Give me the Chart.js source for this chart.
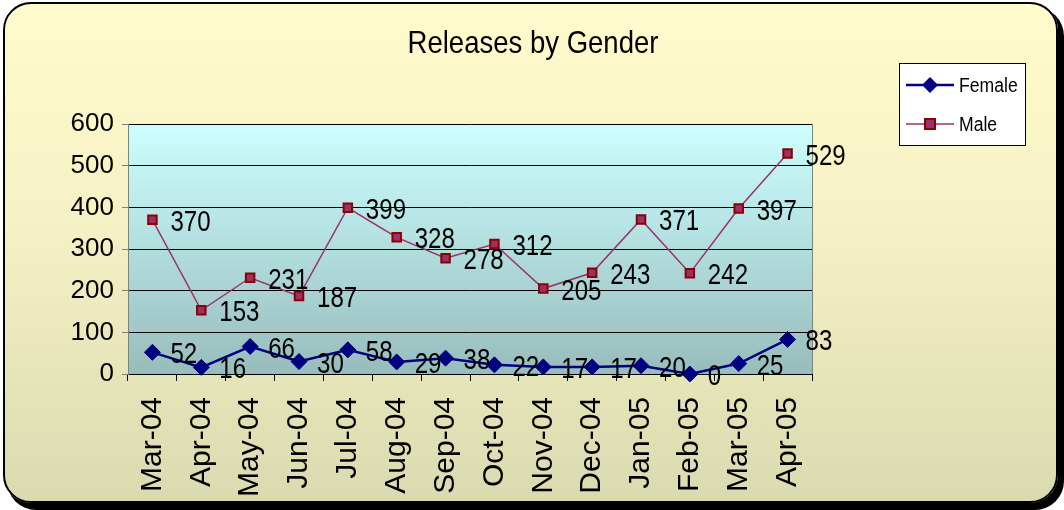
<!DOCTYPE html>
<html>
<head>
<meta charset="utf-8">
<script src="https://cdn.jsdelivr.net/npm/chart.js@4/dist/chart.umd.min.js"></script>
<style>
  html, body { margin: 0; padding: 0; background: #fff; }
  #wrap { position: relative; width: 1064px; height: 510px; overflow: hidden; }
  #frame {
    position: absolute; left: 3px; top: 2px; width: 1051px; height: 497px;
    border: 2px solid #000; border-radius: 28px;
    box-shadow: 5px 6px 0 1px #000;
    background: linear-gradient(to bottom, #fffbcc 0%, #f4f1c4 45%, #dadab0 100%);
  }
  #chart { position: absolute; left: 0; top: 0; }
</style>
</head>
<body>
<div id="wrap">
  <div id="frame"></div>
  <canvas id="chart" width="1064" height="510"></canvas>
</div>
<script>
const months = ["Mar-04", "Apr-04", "May-04", "Jun-04", "Jul-04", "Aug-04", "Sep-04",
  "Oct-04", "Nov-04", "Dec-04", "Jan-05", "Feb-05", "Mar-05", "Apr-05"];
const female = [52, 16, 66, 30, 58, 29, 38, 22, 17, 17, 20, 0, 25, 83];
const male = [370, 153, 231, 187, 399, 328, 278, 312, 205, 243, 371, 242, 397, 529];
const chartTitle = "Releases by Gender";

const FONT = "'Liberation Sans', Arial, sans-serif";

// text squeezed sideways, the way the original renders it
function narrowText(ctx, text, x, y, size, squeeze, align) {
  ctx.save();
  ctx.font = size + "px " + FONT;
  ctx.textAlign = align || "left";
  ctx.textBaseline = "alphabetic";
  ctx.translate(x, y);
  ctx.scale(squeeze, 1);
  ctx.fillText(text, 0, 0);
  ctx.restore();
}

// plot area gradient
const plotBackground = {
  id: "plotBackground",
  beforeDraw(chart) {
    const { ctx, chartArea: a } = chart;
    const g = ctx.createLinearGradient(0, a.top, 0, a.bottom);
    g.addColorStop(0, "#ccffff");
    g.addColorStop(1, "#98bcbc");
    ctx.save();
    ctx.fillStyle = g;
    ctx.fillRect(a.left, a.top, a.right - a.left, a.bottom - a.top);
    ctx.restore();
  },
  beforeDatasetsDraw(chart) {
    const { ctx, chartArea: a } = chart;
    ctx.save();
    ctx.strokeStyle = "#808080";
    ctx.lineWidth = 1;
    ctx.beginPath();
    ctx.moveTo(Math.round(a.right) + 0.5, a.top);
    ctx.lineTo(Math.round(a.right) + 0.5, a.bottom);
    ctx.stroke();
    ctx.restore();
  }
};

// value labels to the right of each point
const valueLabels = {
  id: "valueLabels",
  afterDatasetsDraw(chart) {
    const ctx = chart.ctx;
    ctx.fillStyle = "#000";
    chart.data.datasets.forEach((ds, i) => {
      chart.getDatasetMeta(i).data.forEach((pt, j) => {
        narrowText(ctx, String(ds.data[j]), pt.x + 18, pt.y + 11, 29, 0.83);
      });
    });
  }
};

// title and boxed legend
const titleAndLegend = {
  id: "titleAndLegend",
  afterDraw(chart) {
    const ctx = chart.ctx;
    ctx.save();
    ctx.fillStyle = "#000";
    narrowText(ctx, chartTitle, 533, 53, 32, 0.86, "center");

    ctx.fillStyle = "#fff";
    ctx.fillRect(899.5, 63.5, 126, 82);
    ctx.strokeStyle = "#000";
    ctx.lineWidth = 1;
    ctx.strokeRect(899.5, 63.5, 126, 82);

    chart.data.datasets.forEach((ds, i) => {
      const y = i === 0 ? 85 : 124;
      ctx.strokeStyle = ds.borderColor;
      ctx.lineWidth = ds.borderWidth;
      ctx.beginPath();
      ctx.moveTo(906, y);
      ctx.lineTo(954, y);
      ctx.stroke();
      ctx.fillStyle = ds.pointBackgroundColor;
      ctx.strokeStyle = ds.pointBorderColor;
      ctx.lineWidth = ds.pointBorderWidth;
      if (ds.pointStyle === "rectRot") {
        ctx.beginPath();
        ctx.moveTo(930, y - 8);
        ctx.lineTo(938, y);
        ctx.lineTo(930, y + 8);
        ctx.lineTo(922, y);
        ctx.closePath();
        ctx.fill();
      } else {
        ctx.fillRect(925, y - 5, 10, 10);
        ctx.strokeRect(925, y - 5, 10, 10);
      }
      ctx.fillStyle = "#000";
      narrowText(ctx, ds.label, 959, y + 7, 20, 0.88);
    });
    ctx.restore();
  }
};

new Chart(document.getElementById("chart"), {
  type: "line",
  data: {
    labels: months,
    datasets: [
      {
        label: "Female",
        data: female,
        borderColor: "#000080",
        borderWidth: 2.5,
        pointStyle: "rectRot",
        pointRadius: 8,
        pointBackgroundColor: "#000080",
        pointBorderColor: "#000080",
        pointBorderWidth: 1,
        tension: 0,
        clip: false
      },
      {
        label: "Male",
        data: male,
        borderColor: "#993366",
        borderWidth: 1.5,
        pointStyle: "rect",
        pointRadius: 6,
        pointBackgroundColor: "#993366",
        pointBorderColor: "#8b0000",
        pointBorderWidth: 2,
        tension: 0,
        clip: false
      }
    ]
  },
  options: {
    responsive: false,
    animation: false,
    layout: { padding: { left: 0, right: 252, top: 124, bottom: 0 } },
    plugins: {
      legend: { display: false },
      title: { display: false },
      tooltip: { enabled: false }
    },
    scales: {
      x: {
        offset: true,
        grid: { offset: true, drawOnChartArea: false, tickLength: 7, color: "#000" },
        border: { color: "#000" },
        ticks: {
          minRotation: 90, maxRotation: 90, color: "#000", padding: 16,
          font: { family: FONT, size: 30 }
        },
        afterFit(scale) { scale.height = 136; }
      },
      y: {
        min: 0,
        max: 600,
        ticks: { stepSize: 100, color: "#000", padding: 8, font: { family: FONT, size: 26 } },
        grid: { color: "#000", tickColor: "#808080", tickLength: 6 },
        border: { color: "#808080" },
        afterFit(scale) { scale.width = 128; }
      }
    }
  },
  plugins: [plotBackground, valueLabels, titleAndLegend]
});
</script>
</body>
</html>
